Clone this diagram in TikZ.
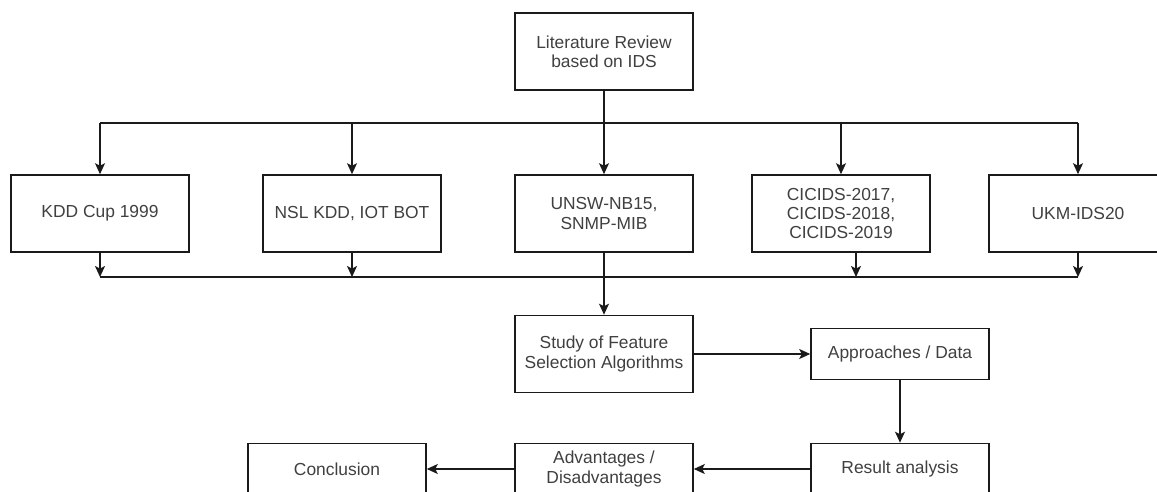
\documentclass[tikz,border=0pt]{standalone}
\usepackage{fontspec}
\setmainfont{Liberation Sans}
\usetikzlibrary{arrows.meta}
\definecolor{txt}{HTML}{404040}
\definecolor{ln}{HTML}{1A1A1A}
\tikzset{
  box/.style={draw=ln, line width=0.8pt, fill=white, minimum width=89pt, minimum height=38.5pt,
    inner sep=0pt, align=center, text=txt, font=\fontsize{8.7pt}{9.6pt}\selectfont, anchor=center},
  lowbox/.style={box, minimum height=25.5pt},
  conn/.style={draw=ln, line width=0.8pt},
  arr/.style={conn, -{Stealth[length=5.5pt, width=5pt, inset=1.3pt]}}
}
\begin{document}
\begin{tikzpicture}[x=0.5pt, y=-0.5pt]
\useasboundingbox (0,0) rectangle (1157,492);
% nodes
\node[box] (lit) at (604,51.5) {Literature Review\\based on IDS};
\node[box] (kdd) at (100,213.5) {KDD Cup 1999};
\node[box] (nsl) at (352,213.5) {NSL KDD, IOT BOT};
\node[box] (unsw) at (604,213.5) {UNSW-NB15,\\SNMP-MIB};
\node[box] (cic) at (841,213.5) {CICIDS-2017,\\CICIDS-2018,\\CICIDS-2019};
\node[box] (ukm) at (1078,213.5) {UKM-IDS20};
\node[box] (study) at (604,354) {Study of Feature\\Selection Algorithms};
\node[lowbox] (appr) at (900,354) {Approaches / Data};
\node[lowbox] (res) at (900,469) {Result analysis};
\node[lowbox] (adv) at (604,469) {Advantages /\\Disadvantages};
\node[lowbox] (conc) at (337,469) {Conclusion};
% coordinates
\coordinate (tl) at (100,123);
\coordinate (tr) at (1078,123);
\coordinate (bl) at (100,277);
\coordinate (br) at (1078,277);
\coordinate (bnsl) at (352,277);
\coordinate (bcic) at (856,277);
\coordinate (cicb) at (856,252);
% top distribution
\draw[conn] (tl) -- (tr);
\draw[arr] (lit.south) -- (unsw.north);
\draw[arr] (tl) -- (kdd.north);
\draw[arr] (nsl.north |- tl) -- (nsl.north);
\draw[arr] (cic.north |- tl) -- (cic.north);
\draw[arr] (tr) -- (ukm.north);
% bottom collection
\draw[conn] (bl) -- (br);
\draw[arr] (kdd.south) -- (bl);
\draw[arr] (nsl.south) -- (bnsl);
\draw[arr] (cicb) -- (bcic);
\draw[arr] (ukm.south) -- (br);
\draw[arr] (unsw.south) -- (study.north);
% flow
\draw[arr] (study.east) -- (appr.west);
\draw[arr] (appr.south) -- (res.north);
\draw[arr] (res.west) -- (adv.east);
\draw[arr] (adv.west) -- (conc.east);
\end{tikzpicture}
\end{document}
